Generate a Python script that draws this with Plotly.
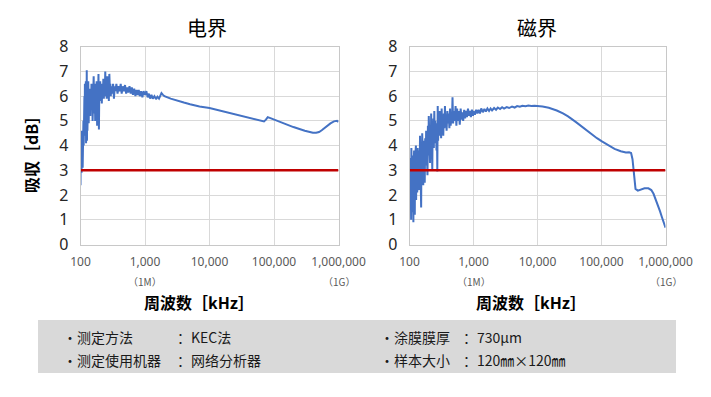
import math
import plotly.graph_objects as go

# ---------------- data ----------------
e_freq_khz = [100, 101, 102, 103, 104, 105, 106, 107, 108, 109, 110, 111, 112, 113, 114, 115, 116, 117, 118, 119,
              120, 121, 122, 123, 124, 125, 126, 127, 128, 129, 130, 132, 134, 136, 138, 140, 142, 144, 146, 148,
              150, 152, 154, 156, 158, 160, 163, 166, 169, 172, 175, 178, 181, 184, 187, 190, 193, 196, 199, 202,
              206, 210, 214, 218, 222, 226, 230, 234, 238, 242, 246, 250, 255, 260, 265, 270, 275, 280, 285, 290,
              295, 300, 310, 320, 330, 340, 350, 360, 375, 390, 405, 420, 435, 450, 470, 490, 510, 530, 550, 575,
              600, 625, 650, 680, 710, 740, 770, 800, 830, 870, 910, 950, 1000, 1050, 1100, 1150, 1200, 1260, 1320, 1400,
              1480, 1560, 1650, 1720, 1800, 1900, 2000, 2500, 3000, 4000, 5000, 7000, 10000, 15000, 20000, 30000,
              50000, 70000, 75000, 80000, 90000, 100000, 150000, 200000, 300000, 400000, 450000, 500000, 550000,
              600000, 650000, 750000, 850000, 950000, 1000000]
e_absorb_db = [2.4, 4.5, 2.5, 4.2, 2.9, 4.6, 3.3, 4.4, 3.1, 4.7, 3.8, 5.0, 4.0, 5.5, 4.2, 6.0, 4.6, 6.5, 4.4, 5.8,
               5.0, 6.6, 4.1, 6.2, 5.0, 7.05, 4.2, 6.0, 4.6, 6.4, 5.0, 6.6, 4.9, 6.1, 5.4, 6.3, 5.2, 6.0, 5.8, 6.5,
               5.5, 6.2, 5.0, 6.4, 5.6, 6.8, 5.3, 6.5, 5.0, 6.2, 5.7, 6.6, 4.8, 6.3, 5.9, 6.9, 4.65, 6.4, 5.8, 6.6,
               6.0, 6.4, 5.7, 6.5, 6.0, 6.7, 5.9, 6.5, 6.0, 7.0, 6.1, 6.6, 5.9, 6.8, 6.2, 6.6, 5.8, 6.9, 6.3, 6.5,
               6.0, 6.4, 6.1, 6.5, 5.9, 6.4, 6.2, 6.5, 6.1, 6.4, 6.2, 6.5, 6.1, 6.4, 6.2, 6.45, 6.1, 6.35, 6.15, 6.4,
               6.1, 6.35, 6.05, 6.3, 6.0, 6.25, 6.05, 6.25, 6.0, 6.2, 5.95, 6.2, 6.05, 6.2, 5.95, 6.1, 5.9, 6.05, 5.9, 6.0,
               5.88, 5.98, 5.9, 6.0, 6.12, 6.05, 6.0, 5.9, 5.83, 5.74, 5.67, 5.58, 5.52, 5.41, 5.33, 5.23,
               5.08, 4.98, 5.05, 5.15, 5.1, 5.05, 4.87, 4.75, 4.6, 4.52, 4.52, 4.55, 4.62,
               4.7, 4.8, 4.9, 4.98, 5.0, 4.96]

m_freq_khz = [100, 101, 102, 103, 104, 105, 106, 107, 108, 109, 110, 111, 112, 113, 114, 115, 116, 117, 118, 119,
              120, 121, 122, 123, 124, 125, 126, 127, 128, 129, 130, 132, 134, 136, 138, 140, 142, 144, 146, 148,
              150, 152, 154, 156, 158, 160, 162, 164, 166, 168, 170, 173, 176, 179, 182, 185, 188, 191, 194, 197,
              200, 203, 206, 209, 212, 215, 218, 221, 224, 227, 230, 233, 236, 240, 244, 248, 252, 256, 260, 264,
              268, 272, 276, 280, 285, 290, 295, 300, 306, 312, 318, 324, 330, 337, 344, 351, 358, 365, 372, 380,
              390, 400, 410, 420, 430, 440, 450, 460, 470, 480, 495, 510, 525, 540, 555, 570, 590, 610, 630, 650,
              670, 690, 715, 740, 765, 790, 820, 850, 880, 910, 945, 980, 1000, 1050, 1100, 1150, 1200, 1260, 1320, 1400,
              1480, 1560, 1650, 1750, 1850, 1950, 2100, 2250, 2400, 2600, 2800, 3000, 3300, 3600, 4000, 4400,
              4800, 5300, 5800, 6500, 7200, 8000, 9000, 10000, 12000, 15000, 20000, 25000, 30000, 40000, 50000,
              60000, 70000, 85000, 100000, 130000, 160000, 200000, 240000, 270000, 290000, 305000, 315000, 325000,
              340000, 370000, 410000, 470000, 540000, 600000, 650000, 700000, 760000, 820000, 880000, 940000, 1000000]
m_absorb_db = [2.6, 1.6, 3.3, 1.8, 3.5, 2.2, 1.0, 3.9, 1.9, 3.0, 1.3, 2.8, 1.5, 3.6, 2.1, 0.9, 3.1, 2.4, 3.8, 1.7,
               2.9, 1.2, 3.4, 2.0, 3.7, 2.6, 4.0, 1.8, 3.2, 2.3, 3.6, 2.1, 3.9, 2.5, 3.3, 2.2, 3.8, 2.9, 4.4, 2.6,
               3.6, 1.5, 4.0, 2.8, 4.5, 3.0, 3.8, 2.4, 4.2, 3.1, 3.7, 2.5, 4.3, 3.2, 4.6, 3.4, 3.9, 2.8, 4.8, 3.6,
               5.2, 3.8, 4.9, 3.3, 4.4, 3.9, 5.3, 3.7, 4.7, 3.0, 4.9, 4.0, 5.1, 3.9, 5.4, 4.3, 5.0, 4.1, 4.8, 3.8,
               4.9, 2.95, 5.6, 4.2, 5.1, 4.4, 5.4, 4.5, 5.0, 4.3, 5.5, 4.6, 5.2, 4.4, 5.3, 4.7, 5.6, 4.8, 5.2, 4.6,
               5.4, 4.9, 5.3, 4.7, 5.5, 4.8, 5.3, 4.9, 5.95, 4.9, 5.4, 5.0, 5.6, 4.8, 5.5, 5.0, 5.4, 4.85, 5.5, 5.05,
               5.35, 5.0, 5.45, 5.1, 5.4, 5.15, 5.5, 5.2, 5.4, 5.15, 5.45, 5.2, 5.4, 5.25, 5.45, 5.3, 5.45, 5.3, 5.5, 5.35,
               5.48, 5.38, 5.5, 5.4, 5.5, 5.42, 5.52, 5.45, 5.54, 5.48, 5.55, 5.5, 5.56, 5.52, 5.58, 5.54,
               5.6, 5.57, 5.61, 5.59, 5.62, 5.6, 5.61, 5.6, 5.58, 5.53, 5.42, 5.3, 5.18, 4.95, 4.75,
               4.6, 4.47, 4.3, 4.18, 4.0, 3.87, 3.77, 3.72, 3.73, 3.7, 3.45, 3.0, 2.55,
               2.25, 2.18, 2.22, 2.27, 2.27, 2.2, 2.05, 1.85, 1.6, 1.35, 1.1, 0.88, 0.68]

threshold_freq_khz = [100, 1000000]
threshold_db = [3, 3]

panel_titles = ["电界", "磁界"]
x_tick_vals = [100, 1000, 10000, 100000, 1000000]
x_tick_text = ["100", "1,000", "10,000", "100,000", "1,000,000"]
x_sub_vals = [1000, 1000000]
x_sub_text = ["（1M）", "（1G）"]
y_tick_vals = [0, 1, 2, 3, 4, 5, 6, 7, 8]
x_title = "周波数［kHz］"
y_title = "吸収［dB］"
info_rows = [
    ["・测定方法", "：KEC法", "・涂膜膜厚", "：730μm"],
    ["・测定使用机器", "：网络分析器", "・样本大小", "：120㎜×120㎜"],
]

# ---------------- figure ----------------
# The page body has an 8px default margin, so the figure is drawn 8px smaller
# and every target position is shifted by that offset.
OFF = 8
W, H = 711 - OFF, 397 - OFF
def px(x):
    return (x - OFF) / W
def py(y):
    return 1 - (y - OFF) / H

CJK = "Noto Sans CJK SC"
NUM = "Noto Sans, Noto Sans CJK SC"
BLUE = "#4472C4"
RED = "#C00000"

fig = go.Figure()
fig.add_trace(go.Scatter(x=e_freq_khz, y=e_absorb_db, mode="lines", line=dict(color=BLUE, width=2),
                         xaxis="x", yaxis="y", showlegend=False))
fig.add_trace(go.Scatter(x=threshold_freq_khz, y=threshold_db, mode="lines", line=dict(color=RED, width=2.5),
                         xaxis="x", yaxis="y", showlegend=False))
fig.add_trace(go.Scatter(x=m_freq_khz, y=m_absorb_db, mode="lines", line=dict(color=BLUE, width=2),
                         xaxis="x2", yaxis="y2", showlegend=False))
fig.add_trace(go.Scatter(x=threshold_freq_khz, y=threshold_db, mode="lines", line=dict(color=RED, width=2.5),
                         xaxis="x2", yaxis="y2", showlegend=False))

plot_top, plot_bot = 46.7, 244.5
domains = [(80.5, 338.5), (409.5, 665.5)]

xcommon = dict(type="log", range=[2, 6], tickvals=x_tick_vals, ticktext=x_tick_text,
               showgrid=True, gridcolor="#d9d9d9", gridwidth=1,
               showline=True, linecolor="#c8c8c8", linewidth=1, mirror=True,
               ticks="", ticklabelstandoff=6, automargin=False,
               tickfont=dict(family=NUM, size=12, color="#595959"), zeroline=False)
ycommon = dict(range=[0, 8], tickvals=y_tick_vals, showgrid=True, gridcolor="#d9d9d9", gridwidth=1,
               showline=True, linecolor="#c8c8c8", linewidth=1, mirror=True,
               ticks="", ticklabelstandoff=8, automargin=False,
               tickfont=dict(family=NUM, size=16, color="#262626"), zeroline=False)

fig.update_layout(
    width=W, height=H, margin=dict(l=0, r=0, t=0, b=0, pad=0, autoexpand=False),
    paper_bgcolor="white", plot_bgcolor="white",
    xaxis=dict(domain=[px(domains[0][0]), px(domains[0][1])], anchor="y", **xcommon),
    yaxis=dict(domain=[py(plot_bot), py(plot_top)], anchor="x", **ycommon),
    xaxis2=dict(domain=[px(domains[1][0]), px(domains[1][1])], anchor="y2", **xcommon),
    yaxis2=dict(domain=[py(plot_bot), py(plot_top)], anchor="x2", **ycommon),
)

ann = []
title_x = [207, 537]
xtitle_x = [199, 531]
for i, (ax, t) in enumerate(zip(["x", "x2"], panel_titles)):
    ann.append(dict(text=t, xref="paper", yref="paper", x=px(title_x[i]), y=py(28), showarrow=False,
                    xanchor="center", yanchor="middle", font=dict(family=CJK, size=20, color="#000000")))
    ann.append(dict(text="<b>" + x_title + "</b>", xref="paper", yref="paper", x=px(xtitle_x[i]), y=py(302),
                    showarrow=False, xanchor="center", yanchor="middle",
                    font=dict(family=CJK, size=16, color="#000000")))
    for v, s in zip(x_sub_vals, x_sub_text):
        ann.append(dict(text=s, xref=ax, yref="paper", x=math.log10(v), y=py(281.5), showarrow=False,
                        xanchor="center", yanchor="middle", font=dict(family=CJK, size=10, color="#595959")))

ann.append(dict(text="<b>" + y_title + "</b>", xref="paper", yref="paper", x=px(31), y=py(150),
                showarrow=False, textangle=-90, xanchor="center", yanchor="middle",
                font=dict(family=CJK, size=16, color="#000000")))

# info box
col_x = [61, 175, 378, 461]
row_y = [337, 360]
for r, row in enumerate(info_rows):
    for c, txt in enumerate(row):
        ann.append(dict(text=txt, xref="paper", yref="paper", x=px(col_x[c]), y=py(row_y[r]), showarrow=False,
                        xanchor="left", yanchor="middle", font=dict(family=CJK, size=14, color="#1a1a1a")))

fig.update_layout(annotations=ann, shapes=[
    dict(type="rect", xref="paper", yref="paper", x0=px(38), x1=px(676), y0=py(373), y1=py(320),
         fillcolor="#d9d9d9", line=dict(width=0), layer="below")
])

fig.write_html("out.html")
